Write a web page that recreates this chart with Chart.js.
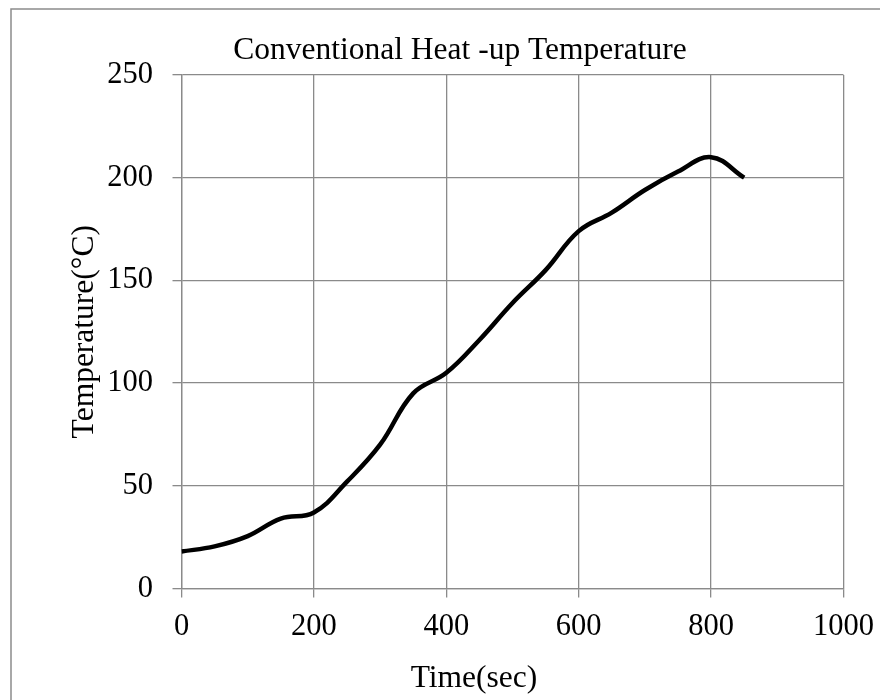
<!DOCTYPE html>
<html>
<head>
<meta charset="utf-8">
<script src="https://cdn.jsdelivr.net/npm/chart.js@4"></script>
<style>
  html, body { margin: 0; padding: 0; background: #ffffff; }
  #wrap { position: relative; width: 880px; height: 700px; }
</style>
</head>
<body>
<div id="wrap"><canvas id="c" width="880" height="700"></canvas></div>
<script>
// Data
const timeSec = [0, 50, 100, 150, 200, 250, 300, 350, 400, 450, 500, 550, 600, 650, 700, 750, 800, 850];
const temperatureC = [18, 20.5, 25.5, 34, 37, 52, 70, 95, 105, 121, 139, 155, 174, 183, 194, 203, 210, 200];
const xTicks = [0, 200, 400, 600, 800, 1000];
const yTicks = [0, 50, 100, 150, 200, 250];
const chartTitle = 'Conventional Heat -up Temperature';
const xTitle = 'Time(sec)';
const yTitle = 'Temperature(\u00B0C)';

const points = timeSec.map((t, i) => ({ x: t, y: temperatureC[i] }));
const serif = "'Liberation Serif', 'Times New Roman', serif";
const gridColor = '#8a8a8a';

const frame = {
  id: 'frame',
  beforeDraw(chart) {
    const ctx = chart.ctx;
    ctx.save();
    ctx.fillStyle = '#ffffff';
    ctx.fillRect(0, 0, chart.width, chart.height);
    ctx.strokeStyle = '#8c8c8c';
    ctx.lineWidth = 1.5;
    ctx.beginPath();
    ctx.moveTo(11, 700);
    ctx.lineTo(11, 9);
    ctx.lineTo(880, 9);
    ctx.stroke();
    ctx.restore();
  },
  afterDraw(chart) {
    const ctx = chart.ctx;
    ctx.save();
    ctx.fillStyle = '#000000';
    ctx.textAlign = 'center';
    ctx.textBaseline = 'middle';
    ctx.font = '31.5px ' + serif;
    ctx.fillText(chartTitle, 460, 51);
    ctx.fillText(xTitle, 474, 679);
    ctx.restore();
  }
};

new Chart(document.getElementById('c'), {
  type: 'scatter',
  data: {
    datasets: [{
      data: points,
      showLine: true,
      borderColor: '#000000',
      borderWidth: 4.5,
      pointRadius: 0,
      tension: 0.4,
      fill: false
    }]
  },
  options: {
    responsive: false,
    animation: false,
    layout: { padding: { left: 0, right: 36.5, top: 75, bottom: 0 } },
    plugins: {
      legend: { display: false },
      tooltip: { enabled: false },
      title: { display: false, text: chartTitle }
    },
    scales: {
      x: {
        type: 'linear',
        min: 0, max: 1000,
        afterBuildTicks(scale) { scale.ticks = xTicks.map(v => ({ value: v })); },
        afterFit(scale) { scale.height = 111.5; scale.paddingLeft = 0; scale.paddingRight = 0; },
        grid: { color: gridColor, lineWidth: 1.3, drawTicks: true, tickLength: 9, tickColor: gridColor },
        border: { color: gridColor, width: 1.3 },
        ticks: { color: '#000000', font: { family: serif, size: 30.5 }, padding: 11, maxRotation: 0,
                 callback: v => String(v) },
        title: { display: false, text: xTitle }
      },
      y: {
        type: 'linear',
        min: 0, max: 250,
        afterBuildTicks(scale) { scale.ticks = yTicks.map(v => ({ value: v })); },
        afterFit(scale) { scale.width = 181.5; },
        grid: { color: gridColor, lineWidth: 1.3, drawTicks: true, tickLength: 9, tickColor: gridColor },
        border: { color: gridColor, width: 1.3 },
        ticks: { color: '#000000', font: { family: serif, size: 30.5 }, padding: 19.5,
                 callback: v => String(v) },
        title: { display: true, text: yTitle, color: '#000000', font: { family: serif, size: 31.5, lineHeight: 1.2 }, padding: { top: 66, bottom: 0 } }
      }
    }
  },
  plugins: [frame]
});
</script>
</body>
</html>
